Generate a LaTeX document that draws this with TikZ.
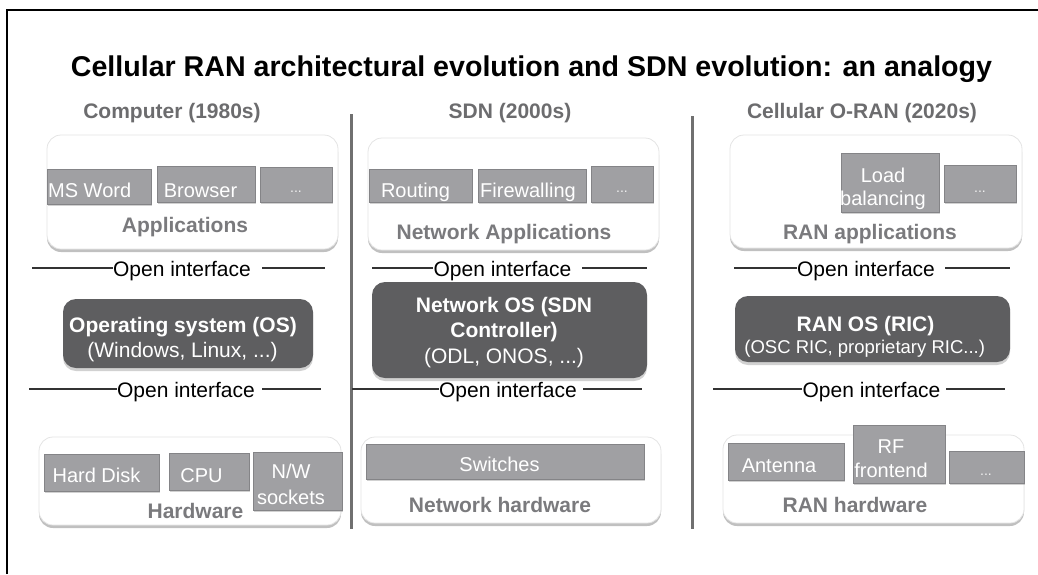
\documentclass[tikz,border=0pt]{standalone}
\usepackage{fontspec}
\setmainfont{Liberation Sans}
\usetikzlibrary{shadows}

\definecolor{itemfill}{RGB}{160,160,163}
\definecolor{itemedge}{RGB}{132,132,135}
\definecolor{osfill}{RGB}{94,94,96}
\definecolor{headgray}{RGB}{108,108,110}
\definecolor{labgray}{RGB}{122,122,125}
\definecolor{sepgray}{RGB}{112,112,112}
\definecolor{paneledge}{RGB}{228,228,228}

\newcommand{\setfs}[1]{\fontsize{#1pt}{#1pt}\selectfont}

\tikzset{
  panel/.style={draw=paneledge, line width=0.8pt, fill=white, rounded corners=14pt, inner sep=0pt,
    drop shadow={shadow xshift=0pt, shadow yshift=-3pt, fill=black!45, opacity=0.55}},
  item/.style={draw=itemedge, line width=1pt, fill=itemfill, inner sep=0pt,
    drop shadow={shadow xshift=1pt, shadow yshift=-2pt, fill=black!40, opacity=0.45}},
  osbox/.style={fill=osfill, rounded corners=13pt, inner sep=0pt,
    drop shadow={shadow xshift=0pt, shadow yshift=-3pt, fill=black!40, opacity=0.45}},
  itext/.style={text=white, font=\setfs{20}, inner sep=0pt, anchor=base},
  dots/.style={text=white!95!black, font=\setfs{14}, inner sep=0pt, anchor=base},
  ostitle/.style={text=white, font=\setfs{21}\bfseries, inner sep=0pt, anchor=base},
  ossub/.style={text=white, font=\setfs{21}, inner sep=0pt, anchor=base},
  plabel/.style={text=labgray, font=\setfs{21}\bfseries, inner sep=0pt, anchor=base},
  header/.style={text=headgray, font=\setfs{21}\bfseries, inner sep=0pt, anchor=base},
  oif/.style={text=black, font=\setfs{21}, inner sep=0pt, anchor=base},
  oline/.style={line width=1.2pt, draw=black!80},
  seprule/.style={draw=sepgray, line width=3pt},
}

\begin{document}
\begin{tikzpicture}[x=1pt, y=-1pt]
\useasboundingbox (0,0) rectangle (1038,574);

% outer frame (top and left edges)
\coordinate (fr0) at (7,574);
\coordinate (fr1) at (7,10);
\coordinate (fr2) at (1038,10);
\draw[line width=1.5pt] (fr0) -- (fr1) -- (fr2);

% title
\node[text=black, font=\setfs{28.6}\bfseries, inner sep=0pt, anchor=base] (title) at (531.5,76)
  {Cellular RAN architectural evolution and SDN evolution: an analogy};

% column headers
\node[header] (h1) at (172,118) {Computer (1980s)};
\node[header] (h2) at (510,118) {SDN (2000s)};
\node[header] (h3) at (862,118) {Cellular O-RAN (2020s)};

% column separators
\coordinate (s1t) at (351,114); \coordinate (s1b) at (351,529);
\coordinate (s2t) at (692,116); \coordinate (s2b) at (692,529);
\draw[seprule] (s1t) -- (s1b);
\draw[seprule] (s2t) -- (s2b);

% ---------------- Computer column ----------------
\node[panel, minimum width=291pt, minimum height=114pt] (apps1) at (192.5,192) {};
\node[item, minimum width=104pt, minimum height=35pt] (msw) at (99,186.5) {};
\node[itext, anchor=base west] (mswt) at (48,197) {MS Word};
\node[item, minimum width=98pt, minimum height=36pt] (brw) at (206,184) {};
\node[itext] (brwt) at (200.5,197) {Browser};
\node[item, minimum width=72pt, minimum height=35pt] (ad1) at (296,184.5) {};
\node[dots] (ad1t) at (296,192) {...};
\node[plabel] (apps1l) at (185,232.5) {Applications};

\node[oif] (oi11) at (182,276) {Open interface};
\coordinate (l11a) at (32,268);
\coordinate (l11b) at (262,268); \coordinate (l11c) at (325,268);
\draw[oline] (l11a) -- (l11a -| oi11.west);
\draw[oline] (l11b) -- (l11c);

\node[osbox, minimum width=250pt, minimum height=69pt] (os1) at (188,333.5) {};
\node[ostitle] (os1a) at (183,332) {Operating system (OS)};
\node[ossub] (os1b) at (182.5,357) {(Windows, Linux, ...)};

\node[oif] (oi12) at (186,397) {Open interface};
\coordinate (l12a) at (29,389);
\coordinate (l12b) at (262,389); \coordinate (l12c) at (321,389);
\draw[oline] (l12a) -- (l12a -| oi12.west);
\draw[oline] (l12b) -- (l12c);

\node[panel, minimum width=302pt, minimum height=88pt] (hw1) at (190,481) {};
\node[item, minimum width=115pt, minimum height=37pt] (hdd) at (101.5,472.5) {};
\node[itext] (hddt) at (96.5,482) {Hard Disk};
\node[item, minimum width=80pt, minimum height=37pt] (cpu) at (209,471.5) {};
\node[itext] (cput) at (201.5,482) {CPU};
\node[item, minimum width=89pt, minimum height=58pt] (nws) at (297.5,481) {};
\node[itext] (nwsa) at (291,478) {N/W};
\node[itext] (nwsb) at (291,504) {sockets};
\node[plabel] (hw1l) at (195.5,518) {Hardware};

% ---------------- SDN column ----------------
\node[panel, minimum width=291pt, minimum height=112pt] (apps2) at (513.5,194) {};
\node[item, minimum width=103pt, minimum height=33pt] (rtg) at (420.5,185.5) {};
\node[itext] (rtgt) at (415.5,197) {Routing};
\node[item, minimum width=108pt, minimum height=33pt] (fwl) at (532,185.5) {};
\node[itext] (fwlt) at (528,197) {Firewalling};
\node[item, minimum width=62pt, minimum height=36pt] (ad2) at (622,184) {};
\node[dots] (ad2t) at (622,192) {...};
\node[plabel] (apps2l) at (504,239.5) {Network Applications};

\node[oif] (oi21) at (502.5,276) {Open interface};
\coordinate (l21a) at (372,268);
\coordinate (l21b) at (582,268); \coordinate (l21c) at (647,268);
\draw[oline] (l21a) -- (l21a -| oi21.west);
\draw[oline] (l21b) -- (l21c);

\node[osbox, minimum width=275pt, minimum height=96pt] (os2) at (509.5,330) {};
\node[ostitle] (os2a) at (504,312) {Network OS (SDN};
\node[ostitle] (os2b) at (504,337) {Controller)};
\node[ossub] (os2c) at (504,363) {(ODL, ONOS, ...)};

\node[oif] (oi22) at (508,397) {Open interface};
\coordinate (l22a) at (352,389);
\coordinate (l22b) at (583,389); \coordinate (l22c) at (642,389);
\draw[oline] (l22a) -- (l22a -| oi22.west);
\draw[oline] (l22b) -- (l22c);

\node[panel, minimum width=300pt, minimum height=86pt] (hw2) at (511,480) {};
\node[item, minimum width=278pt, minimum height=35pt] (swt) at (505,461.5) {};
\node[itext] (swtt) at (499.5,471) {Switches};
\node[plabel] (hw2l) at (500,512) {Network hardware};

% ---------------- O-RAN column ----------------
\node[panel, minimum width=292pt, minimum height=113pt] (apps3) at (876,191.5) {};
\node[item, minimum width=98pt, minimum height=59pt] (lbl) at (890,182.5) {};
\node[itext] (lbla) at (883,182) {Load};
\node[itext] (lblb) at (883,205) {balancing};
\node[item, minimum width=72pt, minimum height=37pt] (ad3) at (980,183.5) {};
\node[dots] (ad3t) at (980,192) {...};
\node[plabel] (apps3l) at (870,239) {RAN applications};

\node[oif] (oi31) at (866,276) {Open interface};
\coordinate (l31a) at (734,268);
\coordinate (l31b) at (945,268); \coordinate (l31c) at (1010,268);
\draw[oline] (l31a) -- (l31a -| oi31.west);
\draw[oline] (l31b) -- (l31c);

\node[osbox, minimum width=275pt, minimum height=66pt] (os3) at (872.5,329) {};
\node[ostitle] (os3a) at (865.5,331) {RAN OS (RIC)};
\node[ossub, font=\setfs{18.5}] (os3b) at (864.7,353) {(OSC RIC, proprietary RIC...)};

\node[oif] (oi32) at (871.5,397) {Open interface};
\coordinate (l32a) at (713,389);
\coordinate (l32b) at (946,389); \coordinate (l32c) at (1005,389);
\draw[oline] (l32a) -- (l32a -| oi32.west);
\draw[oline] (l32b) -- (l32c);

\node[panel, minimum width=301pt, minimum height=88pt] (hw3) at (873.5,479) {};
\node[item, minimum width=116pt, minimum height=37pt] (ant) at (786,461.5) {};
\node[itext] (antt) at (779,472) {Antenna};
\node[item, minimum width=92pt, minimum height=58pt] (rff) at (899,454) {};
\node[itext] (rffa) at (891,453) {RF};
\node[itext] (rffb) at (891,477) {frontend};
\node[item, minimum width=75pt, minimum height=32pt] (ad4) at (986.5,467) {};
\node[dots] (ad4t) at (986,475) {...};
\node[plabel] (hw3l) at (855,512) {RAN hardware};
\end{tikzpicture}
\end{document}
